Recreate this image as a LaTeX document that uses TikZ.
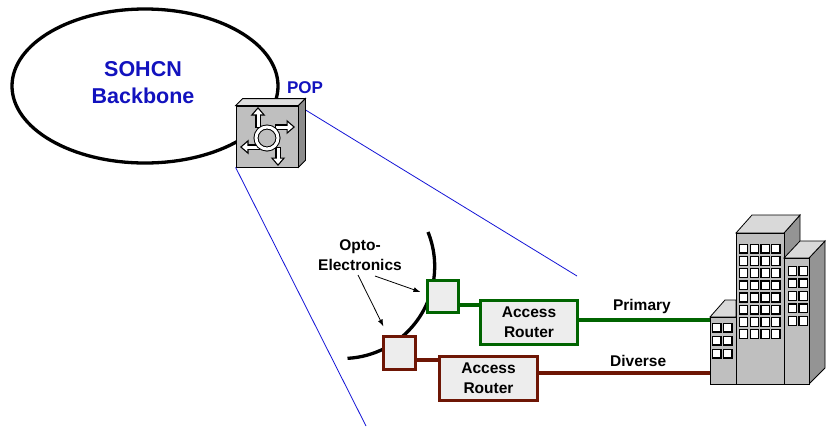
\documentclass[tikz,border=0pt]{standalone}
\usepackage{fontspec}
\setmainfont{Liberation Sans}
\usetikzlibrary{calc,arrows.meta}
\definecolor{popblue}{RGB}{18,18,190}
\definecolor{linkblue}{RGB}{20,20,215}
\definecolor{primgreen}{RGB}{0,100,0}
\definecolor{divbrown}{RGB}{110,22,5}
\def\iconarrow(#1)(#2){\draw[line width=5.6pt, -{Triangle[width=14pt,length=8.5pt]}] (#1) -- (#2);
  \draw[white, line width=3pt, shorten <=1.3pt, shorten >=1.9pt, -{Triangle[width=9pt,length=5.5pt]}] (#1) -- (#2);}

\begin{document}
\begin{tikzpicture}[x=1pt, y=-1pt,
		bluetext/.style={text=popblue, font=\fontsize{21.5}{27}\selectfont\bfseries, align=center},
		labeltext/.style={font=\fontsize{15.5}{20}\selectfont\bfseries, align=center},
		optobox/.style={draw, fill=black!7, line width=3.1pt, inner sep=0pt},
		routerbox/.style={optobox, labeltext, minimum width=97pt, minimum height=44pt},
		window/.style={draw, fill=white, line width=1.3pt},
		zoomline/.style={linkblue, line width=0.8pt}]
		%%%%% START %%%%%
		\useasboundingbox[fill=white] (0,0) rectangle (835,426);
		
		\draw[line width=3.3pt] (145,86) ellipse [x radius=133, y radius=77];
		\node[bluetext] (backbone) at (143,83) {SOHCN\\Backbone};
		
		% POP switch
		\node[draw, fill=black!25, line width=0.8pt, minimum width=62pt, minimum height=61pt, inner sep=0pt] (pop) at (267,136.5) {};
		\coordinate (zoomtop) at (577,276);
		\coordinate (zoombot) at (366,426);
		\draw[zoomline] (pop.north east) -- (zoomtop);
		\draw[zoomline] (pop.south west) -- (zoombot);
		\draw[fill=black!12, line width=0.8pt] (pop.north west) -- ++(7,-7) -- ($(pop.north east)+(7,-7)$) -- (pop.north east) -- cycle;
		\draw[fill=black!45, line width=0.8pt] (pop.north east) -- ++(7,-7) -- ($(pop.south east)+(7,-7)$) -- (pop.south east) -- cycle;
		\iconarrow(258,128)(258,107)
		\iconarrow(275,127)(295,127)
		\iconarrow(260,147)(240,147)
		\iconarrow(278,147)(278,166)
		\draw[line width=5pt, fill=black!25] (267,138) circle (11);
		\draw[white, line width=3pt] (267,138) circle (11);
		\node[bluetext, font=\fontsize{17}{20}\selectfont\bfseries] (poplabel) at (305,88) {POP};
		
		% fibre ring and opto-electronics
		\draw[line width=3.3pt] (428,232) arc [start angle=-22, end angle=87, radius=92];
		\node[optobox, draw=primgreen, minimum width=31pt, minimum height=32pt] (optoA) at (443,296.5) {};
		\node[optobox, draw=divbrown, minimum width=32pt, minimum height=33pt] (optoB) at (399.5,353) {};
		\node[routerbox, draw=primgreen] (routerA) at (529,322.5) {Access\\Router};
		\node[routerbox, draw=divbrown, minimum width=98pt] (routerB) at (488.5,378.5) {Access\\Router};
		
		\node[labeltext] (optolabel) at (360,255) {Opto-\\Electronics};
		\draw[line width=0.8pt, -{Latex[length=7pt,width=5pt]}] ($(optolabel.south)+(15,2)$) -- ($(optoA.west)+(-5.5,-4.5)$);
		\draw[line width=0.8pt, -{Latex[length=7pt,width=5pt]}] ($(optolabel.south)+(-2,1)$) -- ($(optoB.north west)+(1.5,-8.5)$);
		
		% building
		\coordinate (bldg) at (710,350);
		\draw[fill=black!15, line width=0.8pt] (710,317) -- (725,300) -- (736,300) -- (736,317) -- cycle;
		\draw[fill=black!25, line width=0.8pt] (710,317) rectangle (736,384);
		\draw[fill=black!42, line width=0.8pt] (784,233) -- (800,215) -- (800,384) -- (784,384) -- cycle;
		\draw[fill=black!15, line width=0.8pt] (736,233) -- (752,215) -- (800,215) -- (784,233) -- cycle;
		\draw[fill=black!25, line width=0.8pt] (736,233) rectangle (784,384);
		\draw[fill=black!42, line width=0.8pt] (809,258) -- (825,241) -- (825,368) -- (809,384) -- cycle;
		\draw[fill=black!15, line width=0.8pt] (784,258) -- (800,241) -- (825,241) -- (809,258) -- cycle;
		\draw[fill=black!25, line width=0.8pt] (784,258) rectangle (809,384);
		\foreach \c in {0,...,3}
			\foreach \r in {0,...,7}
				\draw[window] ({739.5+\c*10.7},{244.3+\r*12.2}) rectangle +(8.3,8.8);
		\foreach \c in {0,1}
			\foreach \r in {0,...,4}
				\draw[window] ({788.5+\c*10.5},{266.5+\r*12.5}) rectangle +(8.3,8.8);
		\foreach \c in {0,1}
			\foreach \r in {0,1,2}
				\draw[window] ({712.7+\c*11},{323.3+\r*13}) rectangle +(8.3,8.8);
		
		% links
		\coordinate (gA) at ($(optoA.east)+(0,8.5)$);
		\coordinate (bB) at ($(optoB.east)+(0,7)$);
		\coordinate (pA) at ($(routerA.east)+(0,-2.5)$);
		\coordinate (dB) at ($(routerB.east)+(0,-5.5)$);
		\draw[primgreen, line width=3.2pt] (gA) -- (gA -| routerA.west);
		\draw[divbrown, line width=3.2pt] (bB) -- (bB -| routerB.west);
		\draw[primgreen, line width=3.2pt] (pA) -- (pA -| bldg) node[labeltext, text=black, pos=0.48, above=1.5pt] (primary) {Primary};
		\draw[divbrown, line width=3.2pt] (dB) -- (dB -| bldg) node[labeltext, text=black, pos=0.58, above=1.5pt] (diverse) {Diverse};
		
		%%%%% END %%%%%
	\end{tikzpicture}
\end{document}
